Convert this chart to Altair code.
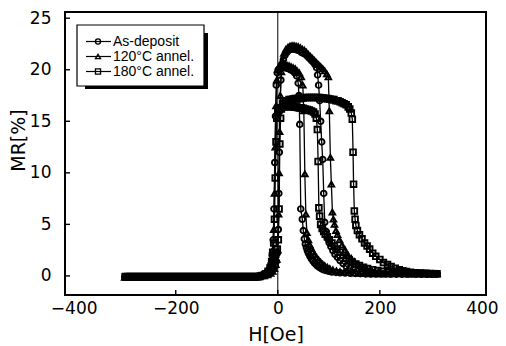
import altair as alt
import pandas as pd

SERIES = ["As-deposit", "120\u00b0C annel.", "180\u00b0C annel."]
SHAPES = ["circle", "triangle-up", "square"]
X_TICKS = [-400, -200, 0, 200, 400]
Y_TICKS = [0, 5, 10, 15, 20, 25]

# ---- As-deposit (circles) : increasing field sweep ----
AS_UP = [(-300,-0.1),(-290,-0.1),(-280,-0.1),(-270,-0.1),(-260,-0.1),(-250,-0.1),(-240,-0.1),(-230,-0.1),
         (-220,-0.1),(-210,-0.1),(-200,-0.1),(-190,-0.1),(-180,-0.1),(-170,-0.1),(-160,-0.1),(-150,-0.1),
         (-140,-0.1),(-130,-0.1),(-120,-0.1),(-110,-0.1),(-100,-0.1),(-90,-0.1),(-80,-0.1),(-70,-0.1),
         (-60,-0.1),(-50,-0.1),(-40,-0.05),(-30,0.0),(-22,0.1),(-16,0.2),(-12,0.4),(-8,0.7),(-5,1.0),
         (-3,1.4),(-1,2.2),(1,4.5),(2,8.0),(3,12.0),(4,16.0),(6,19.0),(8,20.3),(11,21.0),(14,21.4),
         (18,21.7),(22,21.9),(26,22.0),(30,22.0),(34,22.0),(38,21.9),(42,21.9),(46,21.7),(50,21.6),
         (54,21.5),(58,21.3),(62,21.1),(66,20.9),(70,20.7),(73,20.5),(76,20.2),(78,19.5),(80,18.5),
         (82,17.0),(84,15.0),(86,13.0),(88,11.3),(90,8.0),(92,5.2),(95,4.3),(98,3.6),(101,3.2),
         (104,2.85),(108,2.45),(112,2.1),(117,1.8),(122,1.5),(128,1.2),(134,0.95),(141,0.75),(148,0.6),
         (156,0.48),(165,0.38),(175,0.3),(186,0.26),(197,0.23),(208,0.21),(220,0.2),(232,0.2),(244,0.2),
         (256,0.2),(268,0.2),(280,0.2),(292,0.2),(304,0.2),(312,0.2)]

# ---- As-deposit (circles) : decreasing field sweep ----
AS_DN = [(312,0.2),(302,0.2),(292,0.2),(282,0.2),(272,0.2),(262,0.2),(252,0.2),(242,0.2),(232,0.2),
         (222,0.2),(212,0.2),(202,0.2),(192,0.2),(182,0.2),(172,0.2),(162,0.22),(152,0.24),(142,0.26),
         (132,0.28),(122,0.31),(114,0.34),(106,0.38),(100,0.45),(95,0.52),(90,0.6),(86,0.7),(82,0.82),
         (78,0.95),(75,1.1),(72,1.25),(69,1.45),(66,1.65),(63,1.9),(60,2.2),(58,2.45),(56,2.75),
         (54,3.1),(52,3.6),(50,4.4),(48,5.5),(45,6.5),(43,14.7),(41.5,17.5),(40,18.7),(37,19.4),
         (33,19.7),(29,19.9),(25,20.0),(21,20.1),(17,20.15),(13,20.2),(9,20.2),(5,20.15),(1,20.0),
         (-1,19.7),(-3,18.5),(-4.5,15.5),(-6,11.0),(-7.5,6.5),(-9,3.5),(-11,2.0),(-13,1.2),(-16,0.7),
         (-20,0.4),(-25,0.2),(-32,0.05),(-38,-0.05),(-45,-0.1),(-55,-0.1),(-65,-0.1),(-75,-0.1),
         (-85,-0.1),(-95,-0.1),(-105,-0.1),(-115,-0.1),(-125,-0.1),(-135,-0.1),(-145,-0.1),(-155,-0.1),
         (-165,-0.1),(-175,-0.1),(-185,-0.1),(-195,-0.1),(-205,-0.1),(-215,-0.1),(-225,-0.1),
         (-235,-0.1),(-245,-0.1),(-255,-0.1),(-265,-0.1),(-275,-0.1),(-285,-0.1),(-295,-0.1)]

# ---- 120 C annealed (triangles) : increasing field sweep ----
A120_UP = [(-297,-0.15),(-287,-0.15),(-277,-0.15),(-267,-0.15),(-257,-0.15),(-247,-0.15),(-237,-0.15),
           (-227,-0.15),(-217,-0.15),(-207,-0.15),(-197,-0.15),(-187,-0.15),(-177,-0.15),(-167,-0.15),
           (-157,-0.15),(-147,-0.15),(-137,-0.15),(-127,-0.15),(-117,-0.15),(-107,-0.15),(-97,-0.15),
           (-87,-0.15),(-77,-0.15),(-67,-0.15),(-57,-0.15),(-47,-0.15),(-37,-0.1),(-27,0.0),(-20,0.1),
           (-14,0.25),(-10,0.45),(-7,0.7),(-4,1.1),(-2,1.6),(0,2.5),(1.5,6.0),(2.5,10.0),(3.5,14.0),
           (5,17.5),(7,19.8),(9,20.9),(12,21.6),(16,22.0),(20,22.2),(24,22.3),(28,22.35),(32,22.35),
           (36,22.3),(40,22.25),(44,22.15),(48,22.0),(52,21.9),(56,21.7),(60,21.5),(64,21.3),(68,21.1),
           (72,20.9),(76,20.7),(80,20.5),(84,20.3),(88,20.1),(92,19.9),(96,19.6),(99,19.3),(101,16.0),
           (103,11.5),(105,8.9),(107,6.2),(109,5.5),(111,5.0),(114,4.4),(117,4.0),(121,3.5),(126,3.0),
           (132,2.5),(138,2.0),(144,1.7),(150,1.4),(157,1.1),(165,0.9),(175,0.65),(185,0.5),(197,0.38),
           (210,0.3),(223,0.25),(236,0.22),(250,0.2),(263,0.2),(276,0.2),(290,0.2),(303,0.2),(312,0.2)]

# ---- 120 C annealed (triangles) : decreasing field sweep ----
A120_DN = [(309,0.2),(299,0.2),(289,0.2),(279,0.2),(269,0.2),(259,0.2),(249,0.2),(239,0.2),(229,0.2),
           (219,0.2),(209,0.2),(199,0.2),(189,0.2),(179,0.21),(169,0.22),(159,0.25),(149,0.28),
           (139,0.32),(130,0.37),(122,0.43),(115,0.5),(108,0.6),(102,0.72),(97,0.85),(92,1.0),(88,1.15),
           (84,1.35),(80,1.55),(76,1.8),(72,2.05),(69,2.35),(66,2.65),(63,3.0),(60,3.5),(57,4.2),
           (55,6.0),(53,9.9),(51,16.0),(49,18.5),(46,19.3),(42,19.7),(38,19.9),(34,20.1),(30,20.2),
           (26,20.3),(22,20.4),(18,20.45),(14,20.5),(10,20.5),(6,20.45),(2,20.3),(0,20.0),(-2,19.0),
           (-3.5,16.5),(-5,12.5),(-6.5,8.0),(-8,4.5),(-10,2.5),(-12,1.5),(-15,0.8),(-19,0.45),
           (-24,0.25),(-30,0.05),(-37,-0.1),(-42,-0.15),(-52,-0.15),(-62,-0.15),(-72,-0.15),(-82,-0.15),
           (-92,-0.15),(-102,-0.15),(-112,-0.15),(-122,-0.15),(-132,-0.15),(-142,-0.15),(-152,-0.15),
           (-162,-0.15),(-172,-0.15),(-182,-0.15),(-192,-0.15),(-202,-0.15),(-212,-0.15),(-222,-0.15),
           (-232,-0.15),(-242,-0.15),(-252,-0.15),(-262,-0.15),(-272,-0.15),(-282,-0.15),(-292,-0.15),
           (-300,-0.15)]

# ---- 180 C annealed (squares) : increasing field sweep ----
A180_UP = [(-294,-0.05),(-284,-0.05),(-274,-0.05),(-264,-0.05),(-254,-0.05),(-244,-0.05),(-234,-0.05),
           (-224,-0.05),(-214,-0.05),(-204,-0.05),(-194,-0.05),(-184,-0.05),(-174,-0.05),(-164,-0.05),
           (-154,-0.05),(-144,-0.05),(-134,-0.05),(-124,-0.05),(-114,-0.05),(-104,-0.05),(-94,-0.05),
           (-84,-0.05),(-74,-0.05),(-64,-0.05),(-54,-0.05),(-44,-0.05),(-34,0.0),(-26,0.1),(-19,0.3),
           (-14,0.6),(-10,1.2),(-7,1.7),(-4,2.1),(-1,2.6),(1,3.5),(2.5,6.5),(4,12.8),(5.5,15.3),
           (7,16.2),(10,16.7),(14,16.9),(18,17.0),(22,17.1),(26,17.1),(30,17.15),(34,17.2),(38,17.2),
           (42,17.2),(46,17.25),(50,17.25),(54,17.3),(58,17.3),(62,17.3),(66,17.3),(70,17.3),(74,17.3),
           (78,17.3),(82,17.3),(86,17.25),(90,17.25),(94,17.2),(98,17.2),(102,17.15),(106,17.1),
           (110,17.1),(114,17.0),(118,17.0),(122,16.9),(126,16.8),(130,16.7),(134,16.6),(138,16.4),
           (141,16.2),(144,15.8),(146,15.2),(147.5,12.0),(148.5,8.9),(150,6.3),(151.5,5.5),(153,4.9),
           (156,4.4),(160,4.0),(165,3.6),(170,3.2),(175,2.9),(180,2.6),(186,2.2),(192,1.9),(200,1.6),
           (207,1.3),(215,1.1),(222,0.9),(230,0.75),(238,0.6),(245,0.5),(252,0.42),(260,0.35),
           (270,0.3),(280,0.27),(290,0.25),(300,0.23),(312,0.22)]

# ---- 180 C annealed (squares) : decreasing field sweep ----
A180_DN = [(306,0.22),(296,0.22),(286,0.23),(276,0.24),(266,0.26),(256,0.28),(246,0.3),(236,0.33),
           (226,0.36),(216,0.4),(206,0.45),(196,0.52),(186,0.6),(176,0.72),(168,0.85),(160,1.0),
           (153,1.15),(146,1.35),(140,1.55),(134,1.75),(128,2.0),(122,2.3),(116,2.6),(111,2.9),
           (106,3.2),(101,3.5),(97,3.8),(93,4.05),(90,4.3),(87,4.6),(84,5.0),(82,5.8),(80.5,6.6),
           (79,11.1),(77.5,14.2),(75.5,15.3),(73,15.7),(70,15.9),(66,16.0),(62,16.1),(58,16.15),
           (54,16.2),(50,16.25),(46,16.3),(42,16.3),(38,16.35),(34,16.4),(30,16.4),(26,16.4),
           (22,16.45),(18,16.45),(14,16.4),(10,16.4),(6,16.3),(2,16.2),(0,16.0),(-2,15.3),(-3.5,13.0),
           (-5,9.5),(-6.5,5.5),(-8,3.2),(-10,2.3),(-12,1.4),(-15,0.8),(-19,0.45),(-24,0.2),(-30,0.05),
           (-39,-0.05),(-49,-0.05),(-59,-0.05),(-69,-0.05),(-79,-0.05),(-89,-0.05),(-99,-0.05),
           (-109,-0.05),(-119,-0.05),(-129,-0.05),(-139,-0.05),(-149,-0.05),(-159,-0.05),(-169,-0.05),
           (-179,-0.05),(-189,-0.05),(-199,-0.05),(-209,-0.05),(-219,-0.05),(-229,-0.05),(-239,-0.05),
           (-249,-0.05),(-259,-0.05),(-269,-0.05),(-279,-0.05),(-289,-0.05),(-299,-0.05)]

BRANCHES = [(SERIES[0], "up", AS_UP), (SERIES[0], "dn", AS_DN),
            (SERIES[1], "up", A120_UP), (SERIES[1], "dn", A120_DN),
            (SERIES[2], "up", A180_UP), (SERIES[2], "dn", A180_DN)]

rows = []
for name, br, pts in BRANCHES:
    for i, (h, m) in enumerate(pts):
        rows.append({"series": name, "branch": name + br, "order": i, "H": h, "MR": m})
df = pd.DataFrame(rows)

FONT = "DejaVu Sans"
LFONT = "Liberation Sans"
W, H = 421, 283
xs = alt.Scale(domain=[-417, 408], nice=False, zero=False)
ys = alt.Scale(domain=[-1.85, 25.6], nice=False, zero=False)

x_axis = alt.Axis(values=X_TICKS, title="H[Oe]", ticks=False, domain=False, grid=False,
                  labelFont=FONT, labelFontSize=17, labelColor="black", labelPadding=5,
                  titleFont=FONT, titleFontSize=19, titleFontWeight="normal", titleColor="black",
                  titleY=39, titleBaseline="middle")
y_axis = alt.Axis(values=Y_TICKS, title="MR[%]", ticks=False, domain=False, grid=False,
                  labelFont=FONT, labelFontSize=17, labelColor="black", labelPadding=14,
                  titleFont=FONT, titleFontSize=19, titleFontWeight="normal", titleColor="black",
                  titleAngle=270, titleX=-47, titleY=128, titleAlign="center", titleBaseline="middle")

lines = alt.Chart(df).mark_line(color="black", strokeWidth=1.3).encode(
    x=alt.X("H:Q", scale=xs, axis=x_axis),
    y=alt.Y("MR:Q", scale=ys, axis=y_axis),
    detail="branch:N",
    order="order:Q",
)
points = alt.Chart(df).mark_point(filled=False, color="black", strokeWidth=1.9, size=32, opacity=1).encode(
    x=alt.X("H:Q", scale=xs),
    y=alt.Y("MR:Q", scale=ys),
    shape=alt.Shape("series:N", scale=alt.Scale(domain=SERIES, range=SHAPES), legend=None),
)

zero_line = alt.Chart(pd.DataFrame({"v": [0]})).mark_rule(color="black", strokeWidth=1).encode(
    x=alt.X("v:Q", scale=xs), y=alt.value(0), y2=alt.value(H))
yticks = alt.Chart(pd.DataFrame({"v": Y_TICKS})).mark_rule(color="black", strokeWidth=1.4).encode(
    y=alt.Y("v:Q", scale=ys), x=alt.value(0), x2=alt.value(5))
xticks = alt.Chart(pd.DataFrame({"v": X_TICKS[1:-1]})).mark_rule(color="black", strokeWidth=1.4).encode(
    x=alt.X("v:Q", scale=xs), y=alt.value(H), y2=alt.value(H - 5))

# legend box with shadow
box_df = pd.DataFrame({"k": [0]})
shadow = alt.Chart(box_df).mark_rect(color="black").encode(
    x=alt.value(20), x2=alt.value(143), y=alt.value(21), y2=alt.value(77))
box = alt.Chart(box_df).mark_rect(fill="white", stroke="black", strokeWidth=1.2).encode(
    x=alt.value(12), x2=alt.value(139), y=alt.value(13), y2=alt.value(74))

legend_layers = []
ROW_Y = [29.5, 44.5, 59.5]
for name, shp, ry in zip(SERIES, SHAPES, ROW_Y):
    d = pd.DataFrame({"label": [name]})
    legend_layers.append(alt.Chart(d).mark_rule(color="black", strokeWidth=1.2).encode(
        x=alt.value(21), x2=alt.value(46), y=alt.value(ry)))
    legend_layers.append(alt.Chart(d).mark_point(filled=False, color="black", strokeWidth=1.3, size=26,
                                                 opacity=1, shape=shp).encode(
        x=alt.value(33), y=alt.value(ry)))
    legend_layers.append(alt.Chart(d).mark_text(align="left", baseline="middle", font=LFONT,
                                                fontSize=14, color="black").encode(
        x=alt.value(48), y=alt.value(ry), text="label:N"))

chart = alt.layer(lines, points, zero_line, yticks, xticks, shadow, box, *legend_layers).properties(
    width=W, height=H,
    padding={"left": 57, "top": 4, "right": 12, "bottom": 51},
    autosize=alt.AutoSizeParams(type="none"),
    background="white",
).configure_view(stroke="black", strokeWidth=2)

chart.save("out.html", embed_options={"renderer": "svg", "actions": False})
